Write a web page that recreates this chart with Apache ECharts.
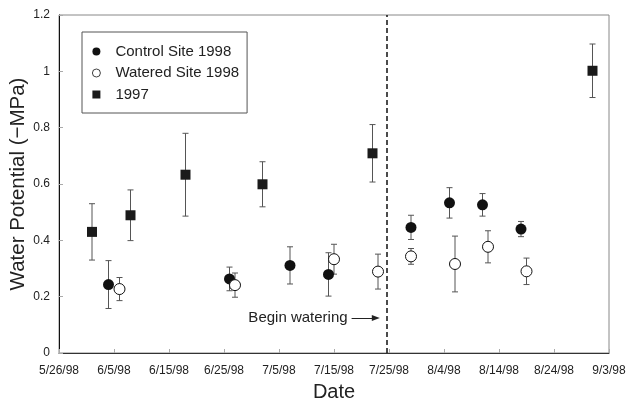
<!DOCTYPE html>
<html>
<head>
  <meta charset="UTF-8" />
  <title>Water potential 1997 / 1998</title>
  <script src="https://cdn.jsdelivr.net/npm/echarts@6/dist/echarts.min.js"></script>
  <style>
    html, body { margin: 0; padding: 0; background: #fff; }
    #main { width: 626px; height: 402px; }
  </style>
</head>
<body>
  <div id="main"></div>
  <script>
  (function () {
    // sampling dates (month/day, 1998 axis) and means / half error bars
    const controlDates = ['6/4', '6/26', '7/7', '7/14', '7/29', '8/5', '8/11', '8/18'];
    const controlMean = [0.243, 0.263, 0.311, 0.279, 0.446, 0.533, 0.526, 0.440];
    const controlErr = [0.085, 0.042, 0.066, 0.077, 0.043, 0.054, 0.040, 0.027];

    const wateredDates = ['6/6', '6/27', '7/15', '7/23', '7/29', '8/6', '8/12', '8/19'];
    const wateredMean = [0.227, 0.241, 0.333, 0.289, 0.343, 0.316, 0.377, 0.290];
    const wateredErr = [0.041, 0.043, 0.053, 0.062, 0.028, 0.099, 0.057, 0.047];

    const y97Dates = ['6/1', '6/8', '6/18', '7/2', '7/22', '8/31'];
    const y97Mean = [0.430, 0.489, 0.633, 0.599, 0.709, 1.002];
    const y97Err = [0.100, 0.090, 0.147, 0.080, 0.102, 0.095];

    const beginWatering = 59.6;   // days after 5/26/98
    const xTickDays = 10;

    const FONT = '"Liberation Sans", Arial, Helvetica, sans-serif';
    const DAY = 86400000;
    const t0 = Date.UTC(1998, 4, 26);

    function dayOf(md) {
      const p = md.split('/');
      return Math.round((Date.UTC(1998, +p[0] - 1, +p[1]) - t0) / DAY);
    }
    function labelOf(d) {
      const dt = new Date(t0 + d * DAY);
      return (dt.getUTCMonth() + 1) + '/' + dt.getUTCDate() + '/98';
    }

    const points = (dates, mean) => dates.map((d, i) => [dayOf(d), mean[i]]);
    const bars = (dates, mean, err) => dates.map((d, i) => [dayOf(d), mean[i] - err[i], mean[i] + err[i]]);

    function errorBar(params, api) {
      const x = api.value(0);
      const lo = api.coord([x, api.value(1)]);
      const hi = api.coord([x, api.value(2)]);
      const hw = 3;
      const style = { stroke: '#555', lineWidth: 1 };
      return {
        type: 'group',
        children: [
          { type: 'line', shape: { x1: lo[0], y1: lo[1], x2: hi[0], y2: hi[1] }, style: style },
          { type: 'line', shape: { x1: lo[0] - hw, y1: lo[1], x2: lo[0] + hw, y2: lo[1] }, style: style },
          { type: 'line', shape: { x1: hi[0] - hw, y1: hi[1], x2: hi[0] + hw, y2: hi[1] }, style: style }
        ]
      };
    }

    function errSeries(data) {
      return {
        type: 'custom', renderItem: errorBar, data: data, z: 1, silent: true,
        encode: { x: 0, y: [1, 2] }
      };
    }

    const chart = echarts.init(document.getElementById('main'));
    chart.setOption({
      animation: false,
      backgroundColor: '#fff',
      textStyle: { fontFamily: FONT },
      grid: {
        left: 59, right: 17, top: 15, bottom: 49,
        outerBoundsMode: 'none', containLabel: false,
        show: true, borderColor: '#888', borderWidth: 1
      },
      legend: {
        data: [
          { name: 'Control Site 1998' },
          { name: 'Watered Site 1998', itemStyle: { borderWidth: 0.8 } },
          { name: '1997', icon: 'path://M0,0H10V10H0Z' }
        ],
        orient: 'vertical',
        left: 82, top: 32,
        padding: [12, 8, 11, 10],
        itemWidth: 28, itemHeight: 8, itemGap: 6.5,
        borderColor: '#555', borderWidth: 1,
        textStyle: { fontSize: 15, color: '#222', fontFamily: FONT }
      },
      xAxis: {
        type: 'value', min: 0, max: 100, interval: xTickDays,
        name: 'Date', nameLocation: 'middle', nameGap: 29, nameMoveOverlap: false,
        nameTextStyle: { fontSize: 20, color: '#222', fontFamily: FONT },
        axisLine: { lineStyle: { color: '#333', width: 1 } },
        axisTick: { inside: true, length: 4, lineStyle: { color: '#aaa' } },
        axisLabel: { formatter: labelOf, fontSize: 12, color: '#222', margin: 12, fontFamily: FONT },
        splitLine: { show: false }
      },
      yAxis: {
        type: 'value', min: 0, max: 1.2, interval: 0.2,
        name: 'Water Potential (\u2212MPa)', nameLocation: 'middle', nameGap: 30, nameMoveOverlap: false,
        nameTextStyle: { fontSize: 20.5, color: '#222', fontFamily: FONT },
        axisLine: { show: true, lineStyle: { color: '#111', width: 1 } },
        axisTick: { show: true, inside: true, length: 4, lineStyle: { color: '#aaa' } },
        axisLabel: { fontSize: 12, color: '#222', margin: 9, fontFamily: FONT },
        splitLine: { show: false }
      },
      series: [
        errSeries(bars(controlDates, controlMean, controlErr)),
        errSeries(bars(wateredDates, wateredMean, wateredErr)),
        errSeries(bars(y97Dates, y97Mean, y97Err)),
        {
          name: 'Control Site 1998', type: 'scatter', symbol: 'circle', symbolSize: 11, z: 3,
          itemStyle: { color: '#111', opacity: 1 },
          data: points(controlDates, controlMean),
          markLine: {
            silent: true, symbol: 'none', label: { show: false },
            lineStyle: { type: [5, 3], color: '#111', width: 1.5 },
            data: [{ xAxis: beginWatering }]
          }
        },
        {
          name: 'Watered Site 1998', type: 'scatter', symbol: 'circle', symbolSize: 11, z: 3,
          itemStyle: { color: '#fff', borderColor: '#111', borderWidth: 1, opacity: 1 },
          data: points(wateredDates, wateredMean),
          markLine: {
            silent: true, symbol: ['none', 'triangle'], symbolSize: [6, 8],
            lineStyle: { type: 'solid', color: '#222', width: 1 },
            label: { show: true, position: 'start', formatter: 'Begin watering', fontSize: 15, color: '#222', distance: 4, fontFamily: FONT },
            data: [[{ coord: [53.2, 0.124] }, { coord: [57.6, 0.124] }]]
          }
        },
        {
          name: '1997', type: 'scatter', symbol: 'rect', symbolSize: 10, z: 3,
          itemStyle: { color: '#1a1a1a', opacity: 1 },
          data: points(y97Dates, y97Mean)
        }
      ]
    });
  })();
  </script>
</body>
</html>
